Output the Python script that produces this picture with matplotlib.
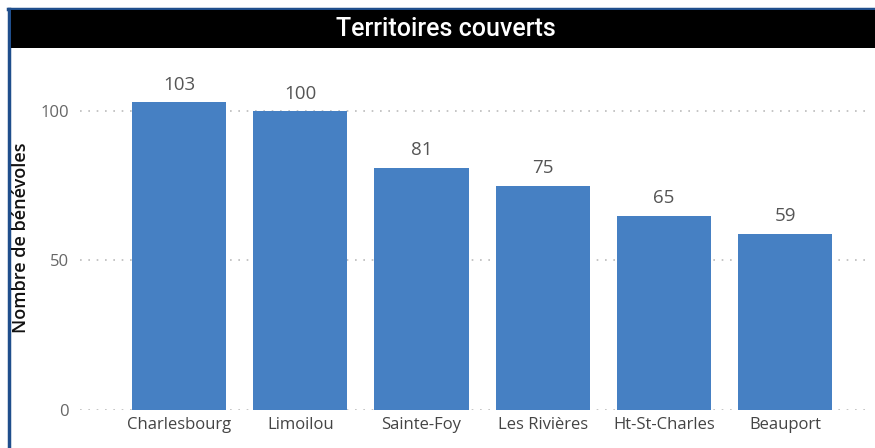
import matplotlib
matplotlib.use("Agg")
import matplotlib.pyplot as plt
from matplotlib.patches import Rectangle
from matplotlib.lines import Line2D

categories = ["Charlesbourg", "Limoilou", "Sainte-Foy", "Les Rivières", "Ht-St-Charles", "Beauport"]
values = [103, 100, 81, 75, 65, 59]
yticks = [0, 50, 100]
title = "Territoires couverts"
ylabel = "Nombre de bénévoles"

W, H = 875, 448
fig = plt.figure(figsize=(W / 100, H / 100), dpi=100)
fig.patch.set_facecolor("white")

def fx(px):
    return px / W

def fy(py):
    return 1 - py / H

# Border lines (blue) and title bar
fig.add_artist(Line2D([fx(9), fx(9)], [fy(9), 0], color="#1F4E8C", lw=2.5, zorder=1))
fig.add_artist(Line2D([fx(8), 1], [fy(9), fy(9)], color="#1F4E8C", lw=2.5, zorder=1))
fig.add_artist(Rectangle((fx(10.5), fy(48)), 1 - fx(10.5), fy(10.5) - fy(48),
                         transform=fig.transFigure, facecolor="black", edgecolor="none"))
fig.text(fx(446), fy(29), title, color="white", fontsize=18, family="Roboto",
         fontweight="medium", ha="center", va="center")

ax = fig.add_axes([fx(80), fy(410), fx(870) - fx(80), fy(60) - fy(410)])
x = list(range(len(categories)))
ax.bar(x, values, width=0.776, color="#4680C3", zorder=2)
ax.set_xlim(-0.817, 5.70)
ax.set_ylim(0, 117)
ax.set_yticks(yticks)
ax.set_xticks(x)
ax.set_xticklabels(categories, fontsize=12, color="#444444", family="Open Sans")
ax.set_yticklabels([str(t) for t in yticks], fontsize=12, color="#666666", family="Open Sans")
ax.tick_params(length=0, pad=8)
ax.tick_params(axis="x", pad=5)
ax.grid(axis="y", color="#BBBBBB", linestyle=(0, (1, 4)), lw=1.2, zorder=0)
for s in ax.spines.values():
    s.set_visible(False)
for xi, v in zip(x, values):
    ax.annotate(str(v), (xi, v), xytext=(0, 6), textcoords="offset points",
                ha="center", va="bottom", fontsize=13.5, color="#555555", family="Open Sans")
fig.text(fx(21), fy(238), ylabel, rotation=90, fontsize=13, color="#111111",
         family="Open Sans", fontweight="semibold", ha="center", va="center", zorder=5)

fig.savefig("out.png", dpi=100)
